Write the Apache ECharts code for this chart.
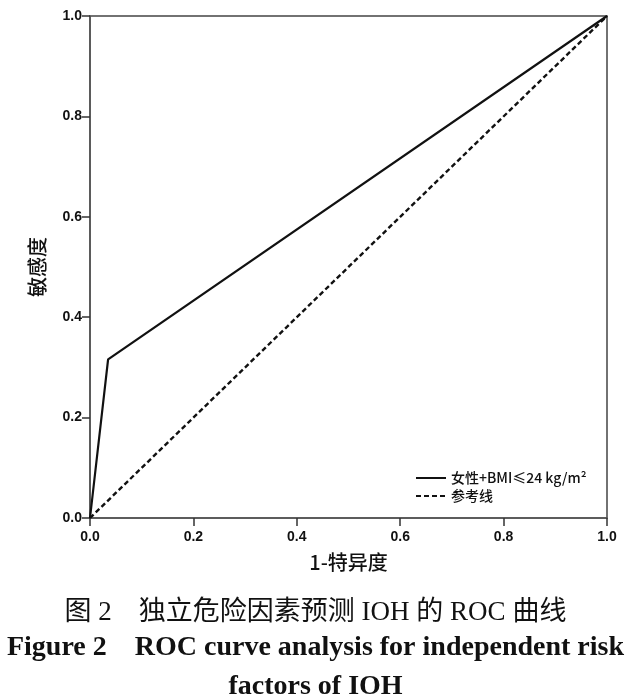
<!DOCTYPE html>
<html>
<head>
<meta charset="utf-8">
<script src="https://cdn.jsdelivr.net/npm/echarts@6/dist/echarts.min.js"></script>
<style>
  html, body { margin: 0; padding: 0; background: #fff; }
  #chart { width: 631px; height: 699px; }
</style>
</head>
<body>
<div id="chart"></div>
<script>
// ROC 数据
const fpr = [0, 0.035, 1];
const tpr = [0, 0.316, 1];
const refX = [0, 1];
const refY = [0, 1];
const seriesNames = ["女性+BMI≤24 kg/m²", "参考线"];

const chart = echarts.init(document.getElementById("chart"));

const axisCommon = {
  type: "value",
  min: 0,
  max: 1,
  interval: 0.2,
  nameLocation: "middle",
  nameTextStyle: { fontFamily: "Noto Sans CJK SC", fontWeight: 500, fontSize: 20, color: "#111" },
  axisLine: { show: true, lineStyle: { color: "#555", width: 1.5 } },
  axisTick: { show: true, length: 8, lineStyle: { color: "#333", width: 1.5 } },
  axisLabel: {
    fontFamily: "Liberation Sans",
    fontWeight: "bold",
    fontSize: 14,
    color: "#111",
    formatter: (v) => v.toFixed(1),
  },
  splitLine: { show: false },
};

chart.setOption({
  animation: false,
  backgroundColor: "#fff",
  title: [
    {
      text: "图 2　独立危险因素预测 IOH 的 ROC 曲线",
      left: "center",
      top: 594,
      textStyle: { fontFamily: "Liberation Serif, Noto Sans CJK SC", fontWeight: "normal", fontSize: 27, color: "#111" },
    },
    {
      text: "Figure 2　ROC curve analysis for independent risk",
      left: "center",
      top: 629,
      textStyle: { fontFamily: "Liberation Serif", fontWeight: "bold", fontSize: 28, color: "#111" },
    },
    {
      text: "factors of IOH",
      left: "center",
      top: 668,
      textStyle: { fontFamily: "Liberation Serif", fontWeight: "bold", fontSize: 28, color: "#111" },
    },
  ],
  grid: {
    left: 90,
    right: 24,
    top: 16,
    bottom: 181,
    show: true,
    borderColor: "#444",
    borderWidth: 1.5,
  },
  legend: {
    orient: "vertical",
    left: 410,
    top: 466,
    itemWidth: 30,
    itemHeight: 14,
    itemGap: 4,
    itemStyle: { opacity: 0 },
    lineStyle: { width: 2 },
    textStyle: { fontFamily: "Noto Sans CJK SC", fontWeight: 500, fontSize: 14, color: "#111" },
    data: seriesNames,
  },
  xAxis: Object.assign({}, axisCommon, {
    name: "1-特异度",
    nameGap: 34,
    axisLabel: Object.assign({}, axisCommon.axisLabel, { margin: 12 }),
  }),
  yAxis: Object.assign({}, axisCommon, { name: "敏感度", nameGap: 43 }),
  series: [
    {
      name: seriesNames[0],
      type: "line",
      symbol: "none",
      data: fpr.map((x, i) => [x, tpr[i]]),
      lineStyle: { color: "#111", width: 2.2 },
      itemStyle: { color: "#111" },
    },
    {
      name: seriesNames[1],
      type: "line",
      symbol: "none",
      data: refX.map((x, i) => [x, refY[i]]),
      lineStyle: { color: "#111", width: 2.4, type: [5, 3] },
      itemStyle: { color: "#111" },
    },
  ],
});
</script>
</body>
</html>
